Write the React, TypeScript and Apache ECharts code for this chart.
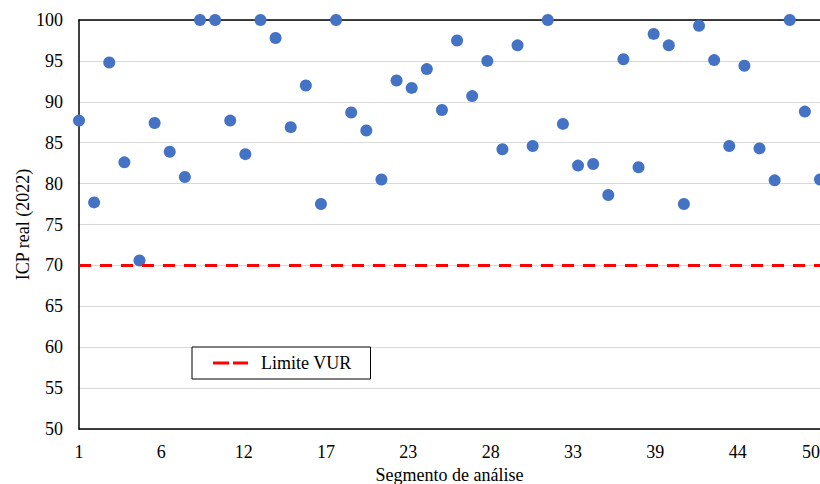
import React, { useEffect, useRef } from "react";
import * as echarts from "echarts";

const segments = [
  1, 2, 3, 4, 5, 6, 7, 8, 9, 10, 11, 12, 13, 14, 15, 16, 17, 18, 19, 20, 21, 22, 23, 24, 25,
  26, 27, 28, 29, 30, 31, 32, 33, 34, 35, 36, 37, 38, 39, 40, 41, 42, 43, 44, 45, 46, 47, 48, 49, 50,
];

const icpValues = [
  87.7, 77.7, 94.8, 82.6, 70.6, 87.4, 83.9, 80.8, 100, 100,
  87.7, 83.6, 100, 97.8, 86.9, 92.0, 77.5, 100, 88.7, 86.5,
  80.5, 92.6, 91.7, 94.0, 89.0, 97.5, 90.7, 95.0, 84.2, 96.9,
  84.6, 100, 87.3, 82.2, 82.4, 78.6, 95.2, 82.0, 98.3, 96.9,
  77.5, 99.3, 95.1, 84.6, 94.4, 84.3, 80.4, 100, 88.8, 80.5,
];

const limitValue = 70;
const xTickLabels = ["1", "6", "12", "17", "23", "28", "33", "39", "44", "50"];
const yTicks = { min: 50, max: 100, step: 5 };

const FONT = "Times New Roman, Liberation Serif, serif";

export default function App() {
  const ref = useRef<HTMLDivElement>(null);

  useEffect(() => {
    if (!ref.current) return;
    const chart = echarts.init(ref.current, undefined, { renderer: "svg" });
    const xMax = segments[segments.length - 1] - segments[0];
    const xStep = xMax / (xTickLabels.length - 1);
    const scatterData = segments.map((s, i) => [s - segments[0], icpValues[i]]);
    const limitData = [
      [0, limitValue],
      [xMax, limitValue],
    ];

    chart.setOption({
      animation: false,
      backgroundColor: "#ffffff",
      textStyle: { fontFamily: FONT },
      grid: {
        left: 79,
        right: 0,
        top: 20,
        bottom: 55,
        containLabel: false,
        outerBoundsMode: "none",
      },
      legend: {
        data: [
          {
            name: "Limite VUR",
            icon: "path://M0,0H16V3H0ZM20,0H35V3H20Z",
          },
        ],
        left: 192,
        top: 347,
        backgroundColor: "#ffffff",
        borderColor: "#000000",
        borderWidth: 1,
        borderRadius: 0,
        padding: [7, 19, 7, 21],
        itemWidth: 35,
        itemHeight: 3,
        textStyle: {
          fontFamily: FONT,
          fontSize: 18,
          color: "#000000",
          padding: [0, 0, 0, 8],
        },
      },
      xAxis: [
        {
          type: "value",
          min: 0,
          max: xMax,
          interval: xStep,
          name: "Segmento de análise",
          nameLocation: "middle",
          nameGap: 34,
          nameTextStyle: { fontFamily: FONT, fontSize: 18, color: "#000000" },
          axisLine: { show: true, onZero: false, lineStyle: { color: "#000000", width: 1.5 } },
          axisTick: { show: false },
          splitLine: { show: false },
          axisLabel: {
            fontFamily: FONT,
            fontSize: 18,
            color: "#000000",
            margin: 14,
            showMinLabel: true,
            showMaxLabel: true,
            hideOverlap: false,
            alignMaxLabel: "right",
            formatter: (v: number) => xTickLabels[Math.round(v / xStep)] ?? "",
          },
        },
        {
          type: "value",
          position: "top",
          min: 0,
          max: xMax,
          axisLine: { show: true, onZero: false, lineStyle: { color: "#000000", width: 1.5 } },
          axisTick: { show: false },
          axisLabel: { show: false },
          splitLine: { show: false },
        },
      ],
      yAxis: {
        type: "value",
        min: yTicks.min,
        max: yTicks.max,
        interval: yTicks.step,
        name: "ICP real (2022)",
        nameLocation: "middle",
        nameGap: 47,
        nameMoveOverlap: false,
        nameTextStyle: { fontFamily: FONT, fontSize: 18, color: "#000000" },
        axisLine: { show: true, onZero: false, lineStyle: { color: "#000000", width: 1.5 } },
        axisTick: { show: false },
        axisLabel: { fontFamily: FONT, fontSize: 18, color: "#000000", margin: 16 },
        splitLine: { show: true, lineStyle: { color: "#d9d9d9", width: 1 } },
      },
      series: [
        {
          name: "ICP real",
          type: "scatter",
          data: scatterData,
          symbol: "circle",
          symbolSize: 12,
          itemStyle: { color: "#4472C4", opacity: 1 },
          z: 3,
        },
        {
          name: "Limite VUR",
          type: "line",
          data: limitData,
          symbol: "none",
          lineStyle: { color: "#FF0000", width: 3, type: [12, 9] },
          itemStyle: { color: "#FF0000" },
          z: 4,
        },
      ],
    });

    return () => chart.dispose();
  }, []);

  return (
    <div
      ref={ref}
      style={{ position: "fixed", left: 0, top: 0, width: 820, height: 484 }}
    />
  );
}
